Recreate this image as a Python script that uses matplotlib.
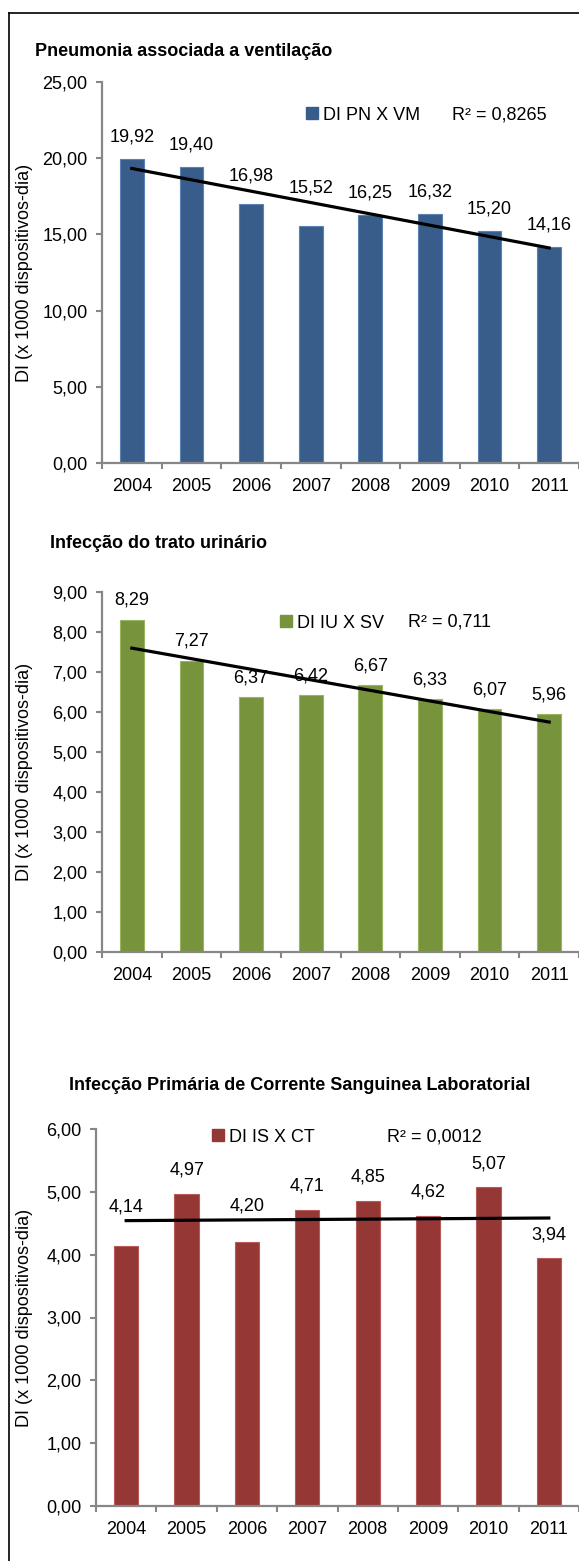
import numpy as np
import matplotlib.pyplot as plt
from matplotlib.lines import Line2D
from matplotlib.patches import Patch
from matplotlib.ticker import FuncFormatter

plt.rcParams['font.family'] = ['Liberation Sans', 'DejaVu Sans']

# dados
anos = ['2004', '2005', '2006', '2007', '2008', '2009', '2010', '2011']
di_pn_vm = [19.92, 19.40, 16.98, 15.52, 16.25, 16.32, 15.20, 14.16]
di_iu_sv = [8.29, 7.27, 6.37, 6.42, 6.67, 6.33, 6.07, 5.96]
di_is_ct = [4.14, 4.97, 4.20, 4.71, 4.85, 4.62, 5.07, 3.94]

# altura (em unidades do eixo) onde fica cada rotulo de dado
rot_pn_vm = [21.36, 20.84, 18.80, 18.05, 17.69, 17.76, 16.64, 15.60]
rot_iu_sv = [8.79, 7.77, 6.84, 6.89, 7.14, 6.80, 6.54, 6.43]
rot_is_ct = [4.76, 5.35, 4.77, 5.09, 5.23, 5.00, 5.45, 4.31]

titulos = ['Pneumonia associada a ventilação',
           'Infecção do trato urinário',
           'Infecção Primária de Corrente Sanguinea Laboratorial']
legendas = ['DI PN X VM', 'DI IU X SV', 'DI IS X CT']
r2_textos = ['R² = 0,8265', 'R² = 0,711', 'R² = 0,0012']
cores = ['#385D8A', '#77933C', '#953735']
bordas = ['#5A82B4', '#9AB562', '#B85A58']
ymax = [25, 9, 6]
ypasso = [5, 1, 1]

W, H = 579, 1561
fig = plt.figure(figsize=(W / 100, H / 100), dpi=100)

# posicoes em pixels: (esquerda, topo do eixo, zero do eixo)
caixas = [(102, 82, 463), (102, 592, 952), (96, 1129, 1506)]
pos_titulo = [(35, 52, 'left'), (50, 543, 'left'), (300, 1085, 'center')]
pos_legenda = [(306, 115), (280, 623), (212, 1137)]
pos_r2 = [(452, 115), (408, 622), (387, 1137)]

series = [di_pn_vm, di_iu_sv, di_is_ct]
rotulos = [rot_pn_vm, rot_iu_sv, rot_is_ct]
cinza = '#878787'
fmt = FuncFormatter(lambda v, p: f'{v:.2f}'.replace('.', ','))

for i, valores in enumerate(series):
    esq, topo, zero = caixas[i]
    ax = fig.add_axes([esq / W, 1 - zero / H, (W - esq) / W, (zero - topo) / H])
    x = np.arange(len(anos))
    ax.bar(x, valores, width=0.4, color=cores[i], edgecolor=bordas[i],
           linewidth=0.8, zorder=2)

    # linha de tendencia linear
    a, b = np.polyfit(x, valores, 1)
    ax.plot([x[0], x[-1]], [a * x[0] + b, a * x[-1] + b], color='black',
            linewidth=2.3, zorder=3)

    for xi, v, yr in zip(x, valores, rotulos[i]):
        ax.text(xi, yr, f'{v:.2f}'.replace('.', ','), ha='center',
                va='center', fontsize=13, zorder=4)

    ax.set_xlim(-0.5, len(anos) - 0.5)
    ax.set_ylim(0, ymax[i])
    ax.set_yticks(np.arange(0, ymax[i] + 0.01, ypasso[i]))
    ax.yaxis.set_major_formatter(fmt)
    ax.set_xticks(x)
    ax.set_xticklabels(anos)
    ax.set_xticks(np.arange(-0.5, len(anos)), minor=True)
    ax.tick_params(axis='x', which='major', length=0, pad=11, labelsize=13)
    ax.tick_params(axis='x', which='minor', length=4.5, width=1.5,
                   color=cinza, direction='out')
    ax.tick_params(axis='y', length=4.5, width=1.5, color=cinza, pad=6,
                   labelsize=13)
    for s in ['top', 'right']:
        ax.spines[s].set_visible(False)
    for s in ['left', 'bottom']:
        ax.spines[s].set_color(cinza)
        ax.spines[s].set_linewidth(1.6)
    ax.patch.set_alpha(0)

    # titulo, eixo y, legenda
    tx, ty, ha = pos_titulo[i]
    fig.text(tx / W, 1 - ty / H, titulos[i], ha=ha, va='center',
             fontsize=13, fontweight='bold')
    fig.text(25 / W, 1 - (topo + zero) / 2 / H, 'DI (x 1000 dispositivos-dia)',
             rotation=90, ha='center', va='center', fontsize=13)
    lx, ly = pos_legenda[i]
    fig.legend(handles=[Patch(facecolor=cores[i], edgecolor=cores[i])],
               labels=[legendas[i]], loc='center left',
               bbox_to_anchor=(lx / W, 1 - ly / H), frameon=False,
               fontsize=13, handlelength=0.65, handleheight=0.65,
               handletextpad=0.3, borderpad=0, borderaxespad=0)
    rx, ry = pos_r2[i]
    fig.text(rx / W, 1 - ry / H, r2_textos[i], ha='left', va='center',
             fontsize=13)

# moldura
fig.add_artist(Line2D([9 / W, 1], [1 - 13 / H, 1 - 13 / H], color='black',
                      linewidth=1.2))
fig.add_artist(Line2D([9 / W, 9 / W], [0, 1 - 13 / H], color='black',
                      linewidth=1.2))

fig.savefig('out.png', dpi=100)
